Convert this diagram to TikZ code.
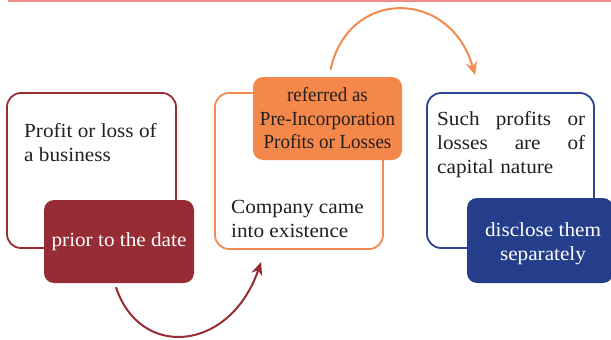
\documentclass[tikz,border=0pt]{standalone}
\usepackage{fontspec}
\setmainfont{Liberation Serif}[FakeStretch=1.06]
\newfontfamily\narrowserif{Liberation Serif}[FakeStretch=0.95]
\usetikzlibrary{arrows.meta}

\definecolor{maroonc}{RGB}{152,44,52}
\definecolor{orangec}{RGB}{244,135,74}
\definecolor{orangeline}{RGB}{242,138,80}
\definecolor{bluec}{RGB}{36,62,140}
\definecolor{blueline}{RGB}{44,66,146}
\definecolor{inkc}{RGB}{35,31,32}
\definecolor{rulec}{RGB}{242,140,140}

\tikzset{
  outlinebox/.style={draw, line width=1.8pt, rounded corners=14pt, fill=white,
    rectangle, inner sep=0pt},
  fillbox/.style={rectangle, rounded corners=10pt, inner sep=0pt, align=center,
    font=\fontsize{20}{23.5}\selectfont},
  bodytext/.style={inner sep=0pt, text=inkc, align=left,
    font=\fontsize{20}{24}\selectfont},
  flowarrow/.style={line width=2pt, -{Stealth[length=13pt,width=11pt,inset=4pt]}},
}

\begin{document}
\begin{tikzpicture}[x=1pt,y=-1pt]
\useasboundingbox (0,0) rectangle (611,340);

% header rule
\draw[rulec, line width=1.6pt] (8,0.8) -- (611,0.8);

% outline boxes
\node[outlinebox, draw=maroonc, minimum width=169pt, minimum height=155pt] (b1) at (91.5,170.5) {};
\node[outlinebox, draw=orangeline, minimum width=168pt, minimum height=156pt] (b2) at (299,171) {};
\node[outlinebox, draw=blueline, minimum width=167pt, minimum height=155pt] (b3) at (510.5,170.5) {};

% texts inside the outline boxes
\node[bodytext, anchor=west] (p1) at (24,143) {Profit or loss of\\a business};
\node[bodytext, anchor=west] (p2) at (231,219) {Company came\\into existence};
\node[bodytext, anchor=west, text width=148pt] (p3) at (437,145)
  {Such\hfill profits\hfill or\\losses\hfill are\hfill of\\capital nature};

% filled tags
\node[fillbox, fill=maroonc, text=white, minimum width=150pt, minimum height=83pt] (t1) at (119,241.5)
  {prior to the date};
\node[fillbox, fill=orangec, text=inkc, minimum width=149pt, minimum height=83pt,
  font=\narrowserif\fontsize{20}{23.5}\selectfont] (t2) at (327.5,118.5)
  {referred as\\Pre-Incorporation\\Profits or Losses};
\node[fillbox, fill=bluec, minimum width=146pt, minimum height=85pt] (t3) at (540,240.5) {};
\node[fillbox, text=white] (t3text) at (543,243.5) {disclose them\\separately};

% connectors
\draw[flowarrow, maroonc] ([xshift=-3pt,yshift=-4pt]t1.south)
  .. controls (140,360) and (230,352) .. ([xshift=47pt,yshift=-12pt]b2.south west);
\draw[flowarrow, orangeline] ([xshift=3pt,yshift=7pt]t2.north)
  .. controls (348,-12) and (450,-12) .. ([xshift=49pt,yshift=17pt]b3.north west);
\end{tikzpicture}
\end{document}
